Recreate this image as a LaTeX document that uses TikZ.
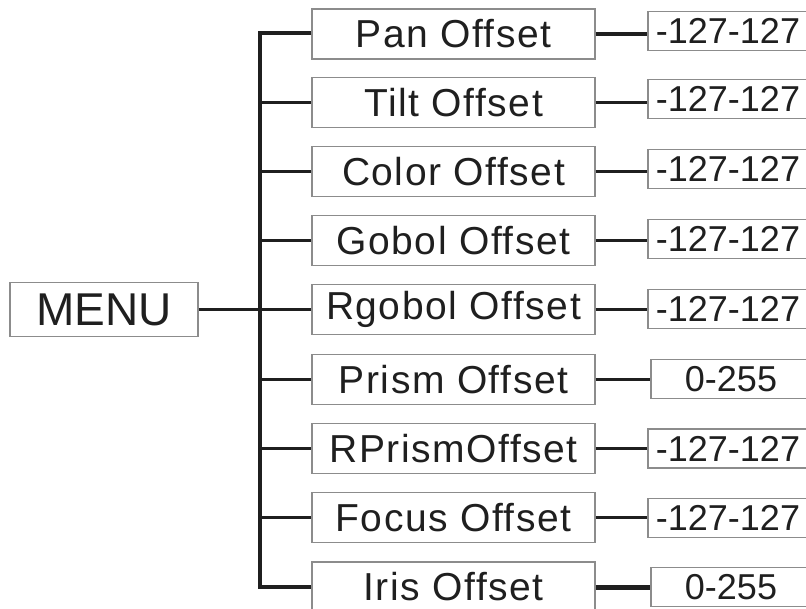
\documentclass[tikz,border=0pt]{standalone}
\usepackage{fontspec}
\setmainfont{Liberation Sans}
\newfontfamily\spacedfont[LetterSpace=4]{Liberation Sans}
\definecolor{boxgray}{gray}{0.55}
\definecolor{ink}{gray}{0.12}
\begin{document}
\begin{tikzpicture}[x=1pt, y=-1pt,
    menubox/.style={draw=boxgray, line width=1.4pt, rectangle, minimum width=188pt, minimum height=54pt, inner sep=0pt, text=ink, font=\fontsize{46}{50}\selectfont},
    item/.style={draw=boxgray, line width=1.4pt, rectangle, minimum width=283pt, minimum height=50pt, inner sep=0pt, text=ink, font=\spacedfont\fontsize{39}{42}\selectfont},
    value/.style={draw=boxgray, line width=1.2pt, rectangle, minimum width=160pt, minimum height=39pt, inner sep=0pt, text=ink, font=\fontsize{36}{40}\selectfont},
    link/.style={draw=ink, line width=3.2pt, line join=miter}]
  \useasboundingbox (0,0) rectangle (806,608);
  \coordinate (trunk) at (260,33);
  \node[menubox] (menu) at (104,309.5) {MENU};
  % second column
  \node[item] (pan)    at (453.5,34)     {Pan Offset};
  \node[item] (tilt)   at (453.5,102.25) {Tilt Offset};
  \node[item] (color)  at (453.5,171.5)  {Color Offset};
  \node[item] (gobo)   at (453.5,240.75) {Gobol Offset};
  \node[item] (rgobo)  at (453.5,309.5)  {Rgobol Offset};
  \node[item] (prism)  at (453.5,379.25) {Prism Offset};
  \node[item] (rprism) at (453.5,448.5)  {RPrismOffset};
  \node[item] (focus)  at (453.5,517.75) {Focus Offset};
  \node[item] (iris)   at (453.5,587)    {Iris Offset};
  % value ranges
  \node[value] (panv)    at (728,31)     {-127-127};
  \node[value] (tiltv)   at (728,99)     {-127-127};
  \node[value] (colorv)  at (728,169)    {-127-127};
  \node[value] (gobov)   at (728,239)    {-127-127};
  \node[value] (rgobov)  at (728,309)    {-127-127};
  \node[value] (prismv)  at (731,379.25) {0-255};
  \node[value] (rprismv) at (728,448.5)  {-127-127};
  \node[value] (focusv)  at (728,517.75) {-127-127};
  \node[value] (irisv)   at (731,587)    {0-255};
  % tree
  \draw[link] (pan.west |- trunk) -- (trunk) -- (iris.west -| trunk) -- (iris.west);
  \draw[link] (menu.east) -- (rgobo.west);
  \foreach \n in {tilt, color, gobo, prism, rprism, focus}
    \draw[link] (\n.west -| trunk) -- (\n.west);
  \foreach \n in {pan, tilt, color, gobo, rgobo, prism, rprism, focus}
    \draw[link] (\n.east) -- (\n v.west |- \n.east);
  \draw[link, line width=5pt] (iris.east) -- (irisv.west);
\end{tikzpicture}
\end{document}
